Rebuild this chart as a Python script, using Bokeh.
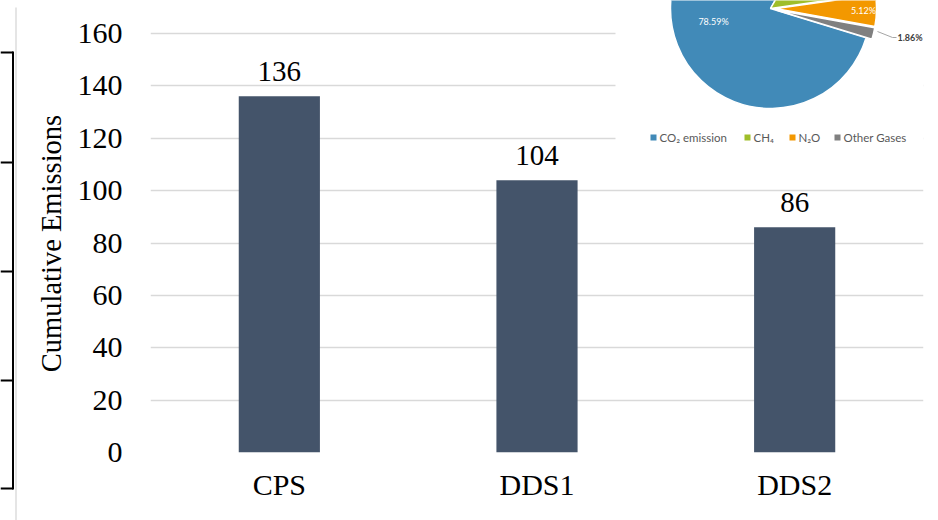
import math
from bokeh.plotting import figure
from bokeh.models import Range1d, FixedTicker, ColumnDataSource
from bokeh.layouts import row
from bokeh.core.properties import value
from bokeh.embed import file_html
from bokeh.resources import INLINE

# ---------------- data ----------------
scenarios = ["CPS", "DDS1", "DDS2"]
emissions = [136, 104, 86]
y_ticks = [0, 20, 40, 60, 80, 100, 120, 140, 160]
y_title = "Cumulative Emissions"

gases = ["CO\u2082 emission", "CH\u2084", "N\u2082O", "Other Gases"]
gas_shares = [78.59, 14.43, 5.12, 1.86]

# ---------------- styles ----------------
SERIF = value("Liberation Serif")
SANS = value("Lato")
BAR_COLOR = "#44546A"
GRID_COLOR = "#D9D9D9"
gas_colors = ["#418AB8", "#9FBE2A", "#F39800", "#808080"]
gas_explode = [0, 0, 6, 6]

W, H = 938, 520
LEFT_W = 70

# ---------------- left strip (page table lines + y title) ----------------
left = figure(width=LEFT_W, height=H, x_range=Range1d(0, LEFT_W), y_range=Range1d(-H, 0),
              x_axis_type=None, y_axis_type=None, toolbar_location=None,
              output_backend="svg", min_border=0)
left.frame_align = False
left.outline_line_color = None
left.grid.visible = False
rows_y = [-52, -162, -271, -380, -488]
left.segment(x0=[12.5], y0=[-51], x1=[12.5], y1=[-489], line_color="black", line_width=2)
left.segment(x0=[0] * len(rows_y), y0=rows_y, x1=[12.5] * len(rows_y), y1=rows_y,
             line_color="black", line_width=2)
left.segment(x0=[15.5], y0=[-7], x1=[15.5], y1=[-520], line_color="#DCDCDC", line_width=1.5)
left.text(x=[50.5], y=[-243], text=[y_title], angle=math.pi / 2,
          text_align="center", text_baseline="middle",
          text_font=SERIF, text_font_size="28.5px", text_color="black")

# ---------------- main bar chart ----------------
bottom_border = H - 452
frame_h = H - bottom_border
y_top = 160 * frame_h / 419.0
xpos = list(range(len(scenarios)))
p = figure(width=W - LEFT_W, height=H, x_range=Range1d(-0.5, len(scenarios) - 0.5),
           y_range=Range1d(0, y_top), toolbar_location=None, output_backend="svg",
           min_border_left=80, min_border_right=15, min_border_top=0,
           min_border_bottom=bottom_border)
p.frame_align = False
p.extra_x_ranges = {"px": Range1d(150, 923)}
p.extra_y_ranges = {"py": Range1d(-452, 0)}
p.outline_line_color = None
p.background_fill_color = "white"
p.border_fill_color = "white"

p.xgrid.visible = False
p.ygrid.grid_line_color = GRID_COLOR
p.ygrid.grid_line_width = 1.5
p.yaxis.ticker = FixedTicker(ticks=y_ticks)
p.xaxis.ticker = FixedTicker(ticks=xpos)
p.xaxis.major_label_overrides = {i: s for i, s in zip(xpos, scenarios)}

for ax in (p.xaxis[0], p.yaxis[0]):
    ax.axis_line_color = None
    ax.major_tick_line_color = None
    ax.minor_tick_line_color = None
    ax.major_tick_out = 0
    ax.major_tick_in = 0
    ax.major_label_text_font = "Liberation Serif"
    ax.major_label_text_font_size = "30px"
    ax.major_label_text_color = "black"
p.yaxis.major_label_standoff = 28
p.xaxis.major_label_standoff = 15

src = ColumnDataSource(dict(x=xpos, top=emissions, lbl=[str(v) for v in emissions]))
p.vbar(x="x", top="top", width=0.315, source=src, fill_color=BAR_COLOR, line_color=None)
p.text(x="x", y="top", text="lbl", source=src, y_offset=-25,
       text_align="center", text_baseline="middle",
       text_font=SERIF, text_font_size="29px", text_color="black")

# ---------------- pie inset (pixel coordinates of the inset) ----------------
p.quad(left=615, right=923, top=0, bottom=-160, fill_color="white", line_color=None,
       x_range_name="px", y_range_name="py")

first_angle = 343.0
cx0, cy0, rad = 770.0, -8.0, 100.0
starts, ends, cxs, cys = [], [], [], []
cum = 0.0
for share, ex in zip(gas_shares, gas_explode):
    e = first_angle - cum * 3.6
    s = first_angle - (cum + share) * 3.6
    cum += share
    mid = math.radians((s + e) / 2)
    starts.append(math.radians(s))
    ends.append(math.radians(e))
    cxs.append(cx0 + ex * math.cos(mid))
    cys.append(cy0 + ex * math.sin(mid))
pie = ColumnDataSource(dict(x=cxs, y=cys, s=starts, e=ends, c=gas_colors))
p.wedge(x="x", y="y", radius=rad, start_angle="s", end_angle="e", source=pie,
        fill_color="c", line_color="white", line_width=1.5,
        x_range_name="px", y_range_name="py")

pct = ["%.2f%%" % v for v in gas_shares]
p.text(x=[713, 863], y=[-21, -10], text=[pct[0], pct[2]], text_align="center",
       text_baseline="middle", text_font=SANS, text_font_size="9px", text_color="white",
       x_range_name="px", y_range_name="py")
p.line(x=[877, 892, 896], y=[-31, -37, -37], line_color="#A6A6A6", line_width=1,
       x_range_name="px", y_range_name="py")
p.text(x=[897], y=[-37], text=[pct[3]], text_align="left", text_baseline="middle",
       text_font=SANS, text_font_size="9px", text_font_style="bold", text_color="#404040",
       x_range_name="px", y_range_name="py")

leg_x = [653, 747, 792, 837]
p.scatter(x=leg_x, y=[-137] * 4, marker="square", size=6, fill_color=gas_colors,
          line_color=None, x_range_name="px", y_range_name="py")
p.text(x=[v + 6 for v in leg_x], y=[-137] * 4, text=gases, text_align="left",
       text_baseline="middle", text_font=SANS, text_font_size="11.5px", text_color="#595959",
       x_range_name="px", y_range_name="py")

layout = row(left, p)
open("out.html", "w").write(file_html(layout, INLINE))
